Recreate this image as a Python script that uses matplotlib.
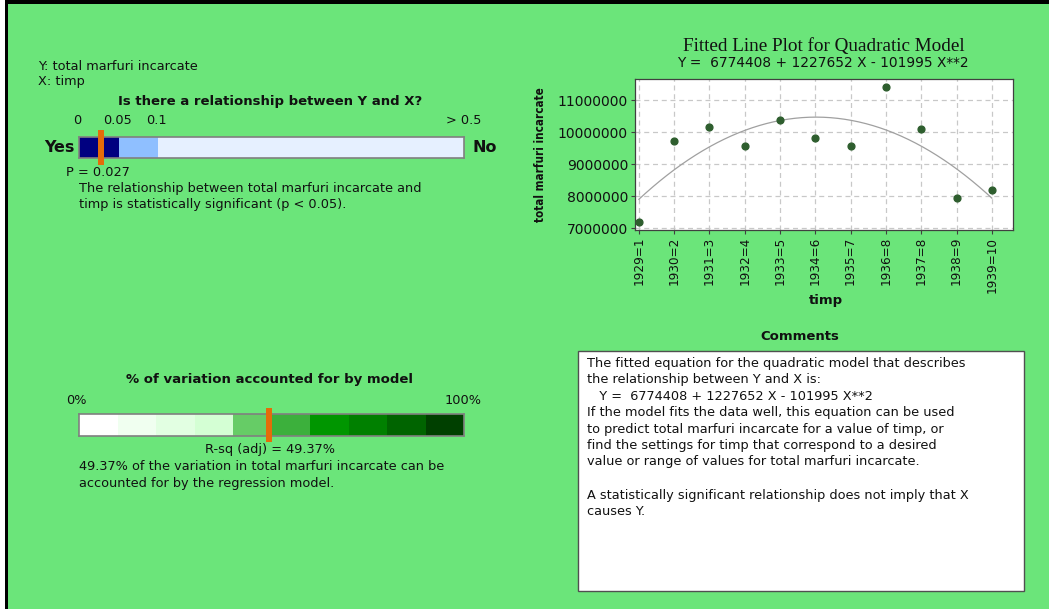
import numpy as np
import matplotlib
matplotlib.use("Agg")
import matplotlib.pyplot as plt
from matplotlib.patches import Rectangle
from matplotlib import font_manager

W, H = 1049, 609

# ---------------- data ----------------
x_labels = ["1929=1", "1930=2", "1931=3", "1932=4", "1933=5", "1934=6",
            "1935=7", "1936=8", "1937=8", "1938=9", "1939=10"]
x_pos = np.arange(1, 12)
y_values = [7190000, 9730000, 10150000, 9570000, 10380000, 9810000,
            9570000, 11420000, 10090000, 7930000, 8190000]
coef_b0, coef_b1, coef_b2 = 6774408, 1227652, -101995
y_ticks = [7000000, 8000000, 9000000, 10000000, 11000000]

p_value = 0.027
p_breaks = [0, 0.05, 0.1, 0.5]
p_break_labels = ["0", "0.05", "0.1", "> 0.5"]
p_colors = ["#000080", "#8FBFFF", "#E6F0FF"]

rsq_adj = 49.37
rsq_segments = np.arange(0, 100, 10)
rsq_colors = ["#FFFFFF", "#F0FFF0", "#E2FFE2", "#D4FFD4", "#66CC66",
              "#3CB03C", "#009600", "#008000", "#006400", "#004000"]

BG = "#6BE57A"
ORANGE = "#E46C0A"
TXT = "#111111"


# look for condensed sans fonts (regular and bold)
def is_narrow(f):
    return (f.stretch in ("condensed", "semi-condensed", "extra-condensed")
            or "Narrow" in f.name or "Condensed" in f.name)


def wnum(w):
    if isinstance(w, int):
        return w
    return {"normal": 400, "regular": 400, "book": 400, "bold": 700}.get(str(w).lower(), 400)


narrow_reg = None
narrow_bold = None
for f in font_manager.fontManager.ttflist:
    if not is_narrow(f) or f.style != "normal":
        continue
    if "Serif" in f.name or "Mono" in f.name:
        continue
    w = wnum(f.weight)
    if w <= 450 and narrow_reg is None:
        narrow_reg = f
    if w >= 600 and narrow_bold is None:
        narrow_bold = f

fig = plt.figure(figsize=(W / 100, H / 100), dpi=100)
fig.patch.set_facecolor("white")


def fx(x):
    return x / W


def fy(y):
    return 1 - y / H


def prect(x0, y0, x1, y1, **kw):
    fig.add_artist(Rectangle((fx(x0), fy(y1)), (x1 - x0) / W, (y1 - y0) / H,
                             transform=fig.transFigure, **kw))


def txt(x, y, s, ha="left", va="center", size=9.3, weight="normal", family="DejaVu Sans", **kw):
    fig.text(fx(x), fy(y), s, ha=ha, va=va, fontsize=size, fontweight=weight,
             family=family, color=TXT, **kw)


def ax_px(x0, y0, x1, y1):
    return fig.add_axes([fx(x0), fy(y1), (x1 - x0) / W, (y1 - y0) / H])


# background and frame border (top/left)
prect(8, 4, W, H, facecolor=BG, edgecolor="none", zorder=-10)
prect(5, 0, 8, H, facecolor="black", edgecolor="none", zorder=-9)
prect(5, 0, W, 4, facecolor="black", edgecolor="none", zorder=-9)

# ---------------- left top: relationship ----------------
txt(38, 67, "Y: total marfuri incarcate")
txt(38, 81, "X: timp")
txt(270, 101, "Is there a relationship between Y and X?", ha="center", weight="bold", size=9.5)

pb_pos = [0, 40 / 385, 79 / 385, 1.0]
axp = ax_px(79, 137, 464, 158)
axp.set_xlim(0, 1)
axp.set_ylim(0, 1)
for i in range(3):
    axp.barh(0.5, pb_pos[i + 1] - pb_pos[i], left=pb_pos[i], height=1.0,
             color=p_colors[i], edgecolor="none")
for sp in axp.spines.values():
    sp.set_color("#808080")
    sp.set_linewidth(1.2)
axp.set_xticks([])
axp.set_yticks([])
pm = np.interp(p_value, p_breaks, pb_pos)
axp.add_patch(Rectangle((pm - 3 / 385, -0.33), 6 / 385, 1.66, facecolor=ORANGE,
                        edgecolor="none", clip_on=False, zorder=5))
for lab, pp in zip(p_break_labels, pb_pos):
    xx = 79 + pp * 385
    if lab.startswith(">"):
        txt(481, 121, lab, ha="right")
    else:
        txt(xx - 1.5, 121, lab, ha="center")
txt(75, 147, "Yes", ha="right", weight="bold", size=11.5)
txt(472, 147, "No", ha="left", weight="bold", size=11.5)
txt(66, 172, "P = %.3f" % p_value)
txt(79, 188, "The relationship between total marfuri incarcate and")
txt(79, 205, "timp is statistically significant (p < 0.05).")

# ---------------- left bottom: R-sq ----------------
txt(270, 380, "% of variation accounted for by model", ha="center", weight="bold", size=9.5)
txt(66, 401, "0%")
txt(482, 401, "100%", ha="right")
axr = ax_px(79, 414, 464, 436)
axr.set_xlim(0, 100)
axr.set_ylim(0, 1)
axr.barh(0.5, 10, left=rsq_segments, height=1.0, color=rsq_colors, edgecolor="none")
for sp in axr.spines.values():
    sp.set_color("#808080")
    sp.set_linewidth(1.2)
axr.set_xticks([])
axr.set_yticks([])
axr.add_patch(Rectangle((rsq_adj - 300 / 385, -0.28), 600 / 385, 1.56, facecolor=ORANGE,
                        edgecolor="none", clip_on=False, zorder=5))
txt(270, 450, "R-sq (adj) = %.2f%%" % rsq_adj, ha="center")
txt(79, 466, "%.2f%% of the variation in total marfuri incarcate can be" % rsq_adj)
txt(79, 483, "accounted for by the regression model.")

# ---------------- fitted line plot ----------------
txt(824, 47, "Fitted Line Plot for Quadratic Model", ha="center", size=13.8,
    family="Liberation Serif")
eq = "Y =  %d + %d X - %d X**2" % (coef_b0, coef_b1, -coef_b2)
txt(823, 63, eq, ha="center", size=9.9)

ax = ax_px(635, 79, 1013, 230)
ax.set_facecolor("white")
xs = np.linspace(1, 11, 200)
ax.plot(xs, coef_b0 + coef_b1 * xs + coef_b2 * xs ** 2, color="#A0A0A0", linewidth=0.9)
ax.scatter(x_pos, y_values, s=24, color="#2E5E2E", zorder=4)
ax.set_xlim(0.89, 11.6)
ax.set_ylim(6940000, 11660000)
ax.set_xticks(x_pos)
ax.set_xticklabels(x_labels, rotation=90)
if narrow_reg is not None:
    fp_tick = font_manager.FontProperties(fname=narrow_reg.fname, size=9.6)
else:
    fp_tick = font_manager.FontProperties(family="DejaVu Sans", size=8.4)
for t in ax.get_xticklabels():
    t.set_fontproperties(fp_tick)
ax.set_yticks(y_ticks)
ax.set_yticklabels([str(v) for v in y_ticks], fontsize=10)
ax.grid(True, color="#C8C8C8", linestyle=(0, (4, 3)), linewidth=0.9)
ax.set_axisbelow(True)
for sp in ax.spines.values():
    sp.set_color("#404040")
    sp.set_linewidth(0.9)
ax.tick_params(axis="both", length=3, color="#404040", labelcolor=TXT, pad=2)
fig.text(fx(826), fy(301), "timp", ha="center", va="center", fontsize=9.5,
         fontweight="bold", color=TXT)
if narrow_bold is not None:
    fp_yl = font_manager.FontProperties(fname=narrow_bold.fname, size=8.4)
else:
    fp_yl = font_manager.FontProperties(family="DejaVu Sans", weight="bold", size=7.6)
fig.text(fx(541), fy(155), "total marfuri incarcate", rotation=90, ha="center",
         va="center", color=TXT, fontproperties=fp_yl)

# ---------------- comments ----------------
txt(800, 336, "Comments", ha="center", weight="bold", size=9.5)
prect(578, 351, 1024, 591, facecolor="white", edgecolor="#505050", linewidth=1.0)
lines = [
    "The fitted equation for the quadratic model that describes",
    "the relationship between Y and X is:",
    "   " + eq,
    "If the model fits the data well, this equation can be used",
    "to predict total marfuri incarcate for a value of timp, or",
    "find the settings for timp that correspond to a desired",
    "value or range of values for total marfuri incarcate.",
    "",
    "A statistically significant relationship does not imply that X",
    "causes Y.",
]
for i, ln in enumerate(lines):
    txt(587, 363 + i * 16.5, ln)

fig.savefig("out.png", dpi=100, facecolor="white")
